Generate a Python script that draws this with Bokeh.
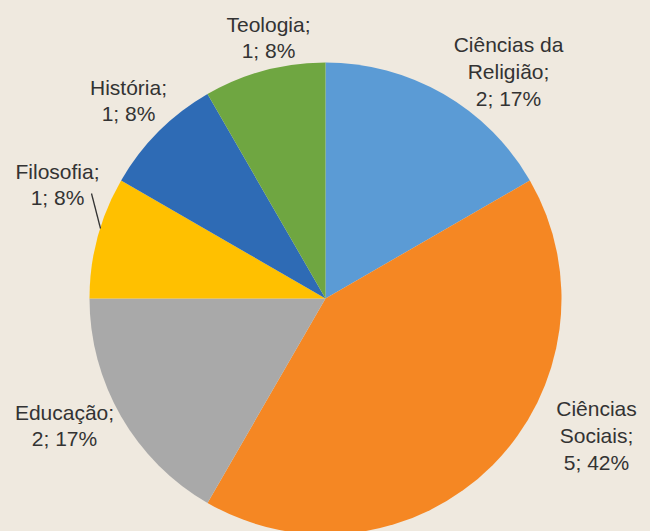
import math
from bokeh.plotting import figure
from bokeh.models import ColumnDataSource, Range1d
from bokeh.core.properties import value
from bokeh.embed import file_html
from bokeh.resources import INLINE

# ---- data ----
categories = ["Ciências da Religião", "Ciências Sociais", "Educação", "Filosofia", "História", "Teologia"]
label_names = ["Ciências da\nReligião", "Ciências\nSociais", "Educação", "Filosofia", "História", "Teologia"]
counts = [2, 5, 2, 1, 1, 1]
percents = [17, 42, 17, 8, 8, 8]
colors = ["#5B9BD5", "#F58723", "#A9A9A9", "#FFC000", "#2E6BB5", "#6FA641"]

# ---- layout (pixels) ----
W, H = 650, 531
CX, CY = 325, 233
R = 236
label_offsets = [(183, 227), (271, -137), (-261, -127), (-268, 114), (-197, 198), (-57, 261)]
BG = "#EFE9DF"

total = sum(counts)
starts, ends = [], []
cum = 0
for c in counts:
    s = math.pi / 2 - 2 * math.pi * cum / total
    e = s - 2 * math.pi * c / total
    starts.append(s)
    ends.append(e)
    cum += c

src = ColumnDataSource(dict(cat=categories, start=starts, end=ends, color=colors,
                            x=[CX] * len(counts), y=[CY] * len(counts)))

p = figure(width=W, height=H, output_backend="svg", toolbar_location=None,
           x_range=Range1d(0, W), y_range=Range1d(0, H), min_border=0)
p.axis.visible = False
p.grid.visible = False
p.outline_line_color = None
p.background_fill_color = BG
p.border_fill_color = BG

p.wedge(x="x", y="y", radius=R, start_angle="start", end_angle="end",
        direction="clock", fill_color="color", line_color=None, source=src)

texts = [f"{n};\n{c}; {pc}%" for n, c, pc in zip(label_names, counts, percents)]
lx = [CX + dx for dx, dy in label_offsets]
ly = [CY + dy for dx, dy in label_offsets]
p.text(x=lx, y=ly, text=texts, text_align="center", text_baseline="middle",
       text_font=value("Liberation Sans"), text_font_size="21px",
       text_color="#333333", text_line_height=1.17)

# leader line for Filosofia
p.segment(x0=[CX - 234], y0=[CY + 105], x1=[CX - 225], y1=[CY + 70],
          line_color="#333333", line_width=1.3)

html = file_html(p, INLINE)
html = html.replace("</head>", f"<style>html, body {{ background-color: {BG}; }}</style></head>", 1)
open("out.html", "w").write(html)
